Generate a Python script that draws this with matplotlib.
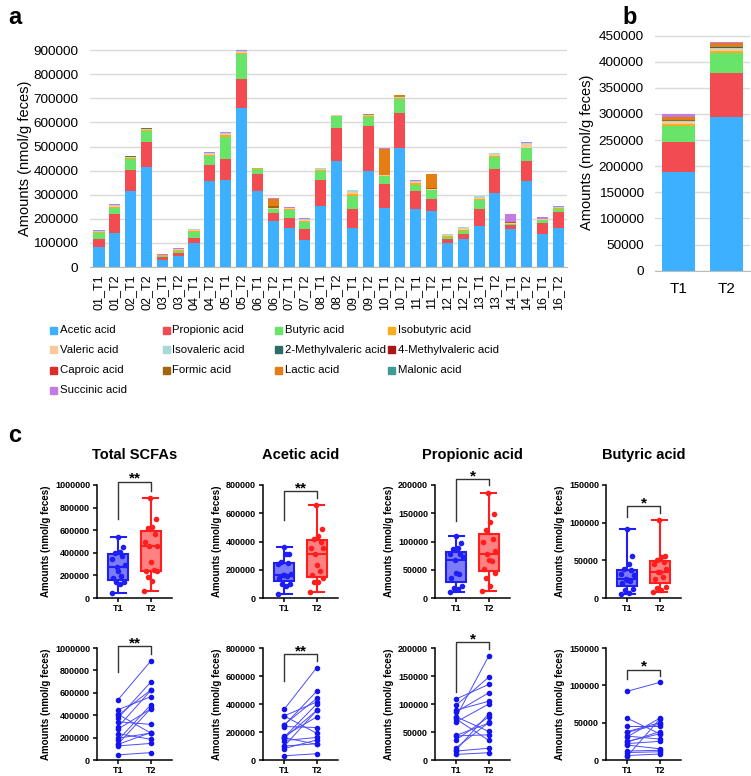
import numpy as np
import matplotlib.pyplot as plt
from matplotlib.patches import Rectangle

plt.rcParams['font.family'] = ['Liberation Sans', 'DejaVu Sans']

# sample order on panel a
samples = ['01_T1', '01_T2', '02_T1', '02_T2', '03_T1', '03_T2', '04_T1', '04_T2',
           '05_T1', '05_T2', '06_T1', '06_T2', '07_T1', '07_T2', '08_T1', '08_T2',
           '09_T1', '09_T2', '10_T1', '10_T2', '11_T1', '11_T2', '12_T1', '12_T2',
           '13_T1', '13_T2', '14_T1', '14_T2', '16_T1', '16_T2']

acids = ['Acetic acid', 'Propionic acid', 'Butyric acid', 'Isobutyric acid',
         'Valeric acid', 'Isovaleric acid', '2-Methylvaleric acid', '4-Methylvaleric acid',
         'Caproic acid', 'Formic acid', 'Lactic acid', 'Malonic acid', 'Succinic acid']
colors = ['#3DB0FF', '#F24B52', '#68E468', '#F9AC1E', '#F8C99A', '#A8D8D8', '#2F6B66',
          '#AE1515', '#DC2E28', '#A0660F', '#E57E12', '#3F9C95', '#C47AE3']

# amounts in thousands of nmol/g feces, one value per sample
acetic = [82, 143, 315, 415, 30, 45, 98, 355, 362, 660, 315, 190, 160, 112, 253,
          440, 163, 400, 247, 492, 239, 232, 100, 116, 172, 308, 156, 355, 139, 161]
propionic = [36, 77, 89, 105, 10, 13, 22, 67, 86, 120, 73, 35, 43, 45, 109,
             135, 77, 186, 98, 148, 77, 51, 16, 21, 68, 100, 18, 83, 44, 66]
butyric = [22, 25, 45, 45, 6, 8, 24, 38, 92, 104, 20, 15, 32, 28, 38,
           50, 56, 35, 31, 56, 25, 35, 10, 11, 37, 48, 5, 55, 12, 13]
isobutyric = [4, 5, 3, 3, 2, 3, 5, 5, 7, 5, 1, 2, 5, 5, 4,
              2, 8, 4, 2, 4, 6, 2, 4, 6, 5, 6, 1, 3, 2, 4]
valeric = [3, 4, 2, 2, 2, 4, 4, 5, 6, 5, 1, 1, 4, 5, 3,
           2, 8, 3, 3, 3, 6, 2, 4, 6, 5, 6, 1, 15, 1, 3]
isovaleric = [2, 3, 2, 2, 1, 3, 3, 4, 4, 3, 1, 0, 3, 4, 2,
              2, 6, 2, 2, 2, 5, 1, 2, 5, 6, 4, 0, 3, 0, 2]
methylvaleric2 = [1, 1, 0, 0, 0, 0, 0, 0, 0, 0, 0, 1, 0, 0, 0,
                  0, 0, 0, 0, 0, 0, 2, 0, 0, 0, 0, 0, 0, 0, 0]
methylvaleric4 = [0, 0, 1, 0, 0, 0, 0, 0, 0, 0, 0, 0, 0, 0, 0,
                  0, 0, 1, 0, 0, 0, 0, 0, 0, 0, 0, 0, 0, 0, 0]
caproic = [0, 0, 1, 1, 0, 0, 0, 0, 0, 0, 0, 0, 0, 0, 0,
           0, 0, 1, 0, 1, 0, 0, 0, 0, 0, 0, 0, 0, 0, 0]
formic = [0, 0, 2, 2, 0, 0, 0, 0, 0, 0, 0, 10, 0, 0, 0,
          0, 0, 0, 1, 1, 0, 2, 0, 0, 0, 0, 7, 0, 0, 0]
lactic = [0, 0, 1, 2, 0, 0, 0, 0, 0, 0, 0, 30, 0, 0, 0,
          0, 0, 2, 105, 5, 0, 58, 0, 0, 0, 0, 0, 0, 0, 0]
malonic = [0, 0, 0, 0, 0, 0, 0, 0, 0, 0, 0, 0, 0, 0, 0,
           0, 0, 0, 0, 0, 0, 2, 0, 0, 0, 0, 0, 0, 0, 0]
succinic = [2, 2, 1, 2, 1, 2, 3, 3, 3, 3, 2, 2, 3, 3, 3,
            2, 3, 3, 3, 3, 4, 1, 3, 3, 3, 3, 30, 4, 9, 3]

values = np.array([acetic, propionic, butyric, isobutyric, valeric, isovaleric,
                   methylvaleric2, methylvaleric4, caproic, formic, lactic,
                   malonic, succinic], dtype=float) * 1000

timepoints = ['T1', 'T2']
is_t1 = np.array([s.endswith('T1') for s in samples])

W, H = 751, 776
fig = plt.figure(figsize=(W / 100, H / 100), dpi=100)


def box(left, top, width, height):
    # pixel box -> figure fraction
    return [left / W, 1 - (top + height) / H, width / W, height / H]


# ---------------- panel a ----------------
ax = fig.add_axes(box(89.5, 49, 477.5, 218))
x = np.arange(len(samples))
bottom = np.zeros(len(samples))
for vals, col in zip(values, colors):
    ax.bar(x, vals, 0.7, bottom=bottom, color=col, linewidth=0)
    bottom += vals
ax.set_xlim(-0.6, len(samples) - 0.45)
ax.set_ylim(0, 905000)
ax.set_yticks(np.arange(0, 900001, 100000))
ax.set_xticks(x)
ax.set_xticklabels(samples, rotation=90, fontsize=9)
ax.tick_params(axis='y', labelsize=9.7, length=0, pad=8)
ax.tick_params(axis='x', length=0, pad=5)
ax.grid(axis='y', color='#DADADA', linewidth=1)
ax.set_axisbelow(True)
for s in ['top', 'right', 'left']:
    ax.spines[s].set_visible(False)
ax.spines['bottom'].set_color('#BBBBBB')
ax.set_ylabel('Amounts (nmol/g feces)', fontsize=10.5, labelpad=1)
fig.text(8 / W, 1 - 18 / H, 'a', fontsize=17, fontweight='bold', va='center')

# ---------------- panel b ----------------
axb = fig.add_axes(box(655, 33, 95, 237.7))
means = np.array([[v[is_t1].mean(), v[~is_t1].mean()] for v in values])
bottom = np.zeros(2)
for m, col in zip(means, colors):
    axb.bar([0, 1], m, 0.69, bottom=bottom, color=col, linewidth=0)
    bottom += m
axb.set_xlim(-0.5, 1.5)
axb.set_ylim(0, 455000)
axb.set_yticks(np.arange(0, 450001, 50000))
axb.set_xticks([0, 1])
axb.set_xticklabels(timepoints, fontsize=11)
axb.tick_params(axis='y', labelsize=9.7, length=0, pad=8)
axb.tick_params(axis='x', length=0, pad=8)
axb.grid(axis='y', color='#DADADA', linewidth=1)
axb.set_axisbelow(True)
for s in ['top', 'right', 'left']:
    axb.spines[s].set_visible(False)
axb.spines['bottom'].set_color('#BBBBBB')
axb.set_ylabel('Amounts (nmol/g feces)', fontsize=10.5, labelpad=3)
fig.text(622 / W, 1 - 18 / H, 'b', fontsize=17, fontweight='bold', va='center')

# ---------------- legend ----------------
for i, (name, col) in enumerate(zip(acids, colors)):
    row, c = divmod(i, 4)
    lx = 50 + c * 112.5
    ly = 330 + row * 20
    fig.patches.append(Rectangle((lx / W, 1 - (ly + 3.5) / H), 7 / W, 7 / H,
                                 transform=fig.transFigure, color=col))
    fig.text((lx + 10) / W, 1 - ly / H, name, fontsize=8.2, va='center')

# ---------------- panel c ----------------
fig.text(8 / W, 1 - 436 / H, 'c', fontsize=17, fontweight='bold', va='center')

total = values[0] + values[1] + values[2]
c_titles = ['Total SCFAs', 'Acetic acid', 'Propionic acid', 'Butyric acid']
c_data = [total, values[0], values[1], values[2]]
c_ymax = [1000000, 800000, 200000, 150000]
c_step = [200000, 200000, 50000, 50000]
c_left = [97, 263, 435, 606]
c_stars = ['**', '**', '*', '*']
# bracket height, left leg end, right leg end
brackets_box = [(1030000, 700000, 950000), (757000, 550000, 707000),
                (210000, 137000, 200000), (122000, 107000, 113000)]
brackets_pair = [(1015000, 786000, 950000), (757000, 566000, 708000),
                 (210000, 122000, 198000), (121000, 109000, 113000)]

blue_edge, red_edge = '#1E1EF5', '#FF1E1E'
blue_fill, red_fill = '#7C7CF8', '#FF8282'
jitter = np.array([-0.2, 0.05, -0.08, 0.18, -0.15, 0.1, 0.0, -0.05, 0.2, -0.18, 0.12, -0.1, 0.05, 0.16, -0.02])


def style_c(a, ymax, step):
    a.set_xlim(-0.65, 1.65)
    a.set_ylim(0, ymax)
    ticks = np.arange(0, ymax + 1, step)
    a.set_yticks(ticks)
    a.set_yticklabels([str(int(t)) for t in ticks])
    a.set_xticks([0, 1])
    a.set_xticklabels(timepoints)
    for s in ['top', 'right']:
        a.spines[s].set_visible(False)
    for s in ['left', 'bottom']:
        a.spines[s].set_linewidth(1.1)
    a.tick_params(labelsize=6.5, width=1.1, length=3, pad=2)
    a.tick_params(axis='x', pad=1.5)
    for lab in a.get_xticklabels() + a.get_yticklabels():
        lab.set_fontweight('bold')
    a.set_ylabel('Amounts (nmol/g feces)', fontsize=7, fontweight='bold', labelpad=3)


def bracket(a, spec, text):
    yb, yl, yr = spec
    a.plot([0, 0, 1, 1], [yl, yb, yb, yr], color='#333333', linewidth=1, clip_on=False)
    a.annotate(text, (0.5, yb), xytext=(0, 2), textcoords='offset points',
               ha='center', va='center', fontsize=11, fontweight='bold', annotation_clip=False)


for k in range(4):
    d = c_data[k]
    t1, t2 = d[is_t1], d[~is_t1]

    # box plots
    a = fig.add_axes(box(c_left[k], 485, 75, 113))
    bp = a.boxplot([t1, t2], positions=[0, 1], widths=0.6, whis=(0, 100),
                   patch_artist=True, showfliers=False, capwidths=0.45)
    for j, (ec, fc) in enumerate([(blue_edge, blue_fill), (red_edge, red_fill)]):
        bp['boxes'][j].set(facecolor=fc, edgecolor=ec, linewidth=1.5)
        bp['medians'][j].set(color=ec, linewidth=1.5)
        for w in bp['whiskers'][2 * j:2 * j + 2] + bp['caps'][2 * j:2 * j + 2]:
            w.set(color=ec, linewidth=1.5)
    for j, (grp, ec) in enumerate([(t1, blue_edge), (t2, red_edge)]):
        order = np.argsort(grp)
        xs = np.empty(len(grp))
        xs[order] = j + jitter[:len(grp)]
        a.plot(xs, grp, 'o', color=ec, markersize=3, zorder=5)
    style_c(a, c_ymax[k], c_step[k])
    bracket(a, brackets_box[k], c_stars[k])
    fig.text((c_left[k] + 37.5) / W, 1 - 455 / H, c_titles[k], fontsize=10.5,
             fontweight='bold', ha='center', va='center')

    # paired plots
    a = fig.add_axes(box(c_left[k], 648, 75, 112))
    for v1, v2 in zip(t1, t2):
        a.plot([0, 1], [v1, v2], color='#4B4BFF', linewidth=0.7)
    a.plot(np.zeros(len(t1)), t1, 'o', color='#1414F0', markersize=3, zorder=5)
    a.plot(np.ones(len(t2)), t2, 'o', color='#1414F0', markersize=3, zorder=5)
    style_c(a, c_ymax[k], c_step[k])
    bracket(a, brackets_pair[k], c_stars[k])

fig.savefig('out.png', dpi=100)
